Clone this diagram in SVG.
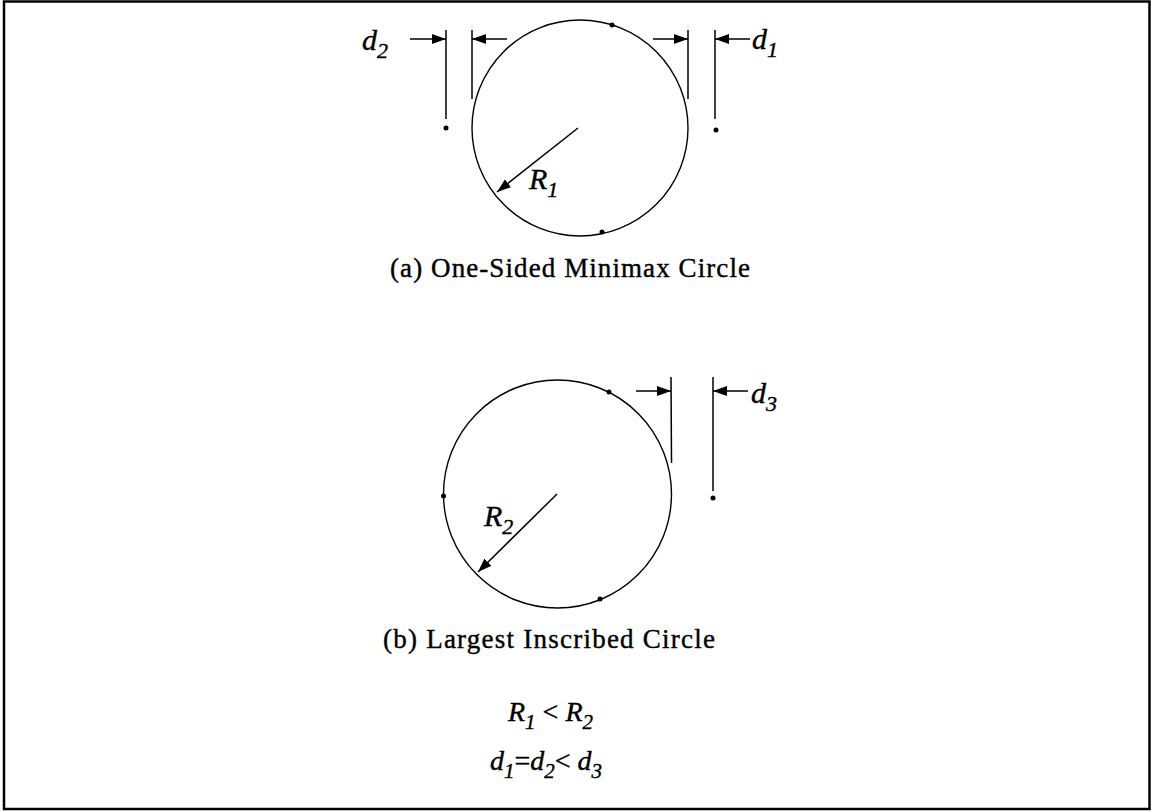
<svg xmlns="http://www.w3.org/2000/svg" width="1151" height="811" viewBox="0 0 1151 811">
<style>
.ln{stroke:#000;stroke-width:1.5;fill:none}
.cir{stroke:#000;stroke-width:1.4;fill:none}
.dot{fill:#000}
.cap{font-family:"Liberation Serif","Times New Roman",serif;font-size:27px;fill:#000;stroke:#000;stroke-width:0.4}
.it{font-family:"Liberation Serif","Times New Roman",serif;font-style:italic;font-size:30px;fill:#000;stroke:#000;stroke-width:0.4}
.sub{font-size:22px}
</style>
<defs>
<marker id="ah" markerUnits="userSpaceOnUse" markerWidth="15" markerHeight="11" refX="14" refY="5" orient="auto">
<path d="M0,0 L14,5 L0,10 z" fill="#000"/>
</marker>
</defs>
<rect x="0" y="0" width="1151" height="811" fill="#fff"/>
<rect x="4" y="1.5" width="1145.5" height="807.5" fill="none" stroke="#000" stroke-width="2.5"/>

<g id="circleA">
<circle class="cir" cx="580" cy="128" r="108"/>
<circle class="dot" cx="612" cy="25" r="2.5"/>
<circle class="dot" cx="602" cy="232" r="2.5"/>
</g>
<g id="pointsA">
<circle class="dot" cx="446" cy="128" r="2.5"/>
<circle class="dot" cx="716" cy="130" r="2.5"/>
</g>
<g id="circleB">
<circle class="cir" cx="557.5" cy="494" r="114"/>
<circle class="dot" cx="609" cy="392" r="2.5"/>
<circle class="dot" cx="443.5" cy="496" r="2.5"/>
<circle class="dot" cx="600" cy="599" r="2.5"/>
</g>
<g id="pointsB">
<circle class="dot" cx="713" cy="498" r="2.5"/>
</g>

<g id="connectors">
<line class="ln" x1="446" y1="30" x2="446" y2="119"/>
<line class="ln" x1="472" y1="30" x2="472" y2="99"/>
<line class="ln" x1="688" y1="30" x2="688" y2="99"/>
<line class="ln" x1="715" y1="30" x2="715" y2="119"/>
<line class="ln" x1="410" y1="39" x2="446" y2="39" marker-end="url(#ah)"/>
<line class="ln" x1="507" y1="39" x2="472" y2="39" marker-end="url(#ah)"/>
<line class="ln" x1="653" y1="39" x2="688" y2="39" marker-end="url(#ah)"/>
<line class="ln" x1="750" y1="39" x2="715" y2="39" marker-end="url(#ah)"/>
<line class="ln" x1="578" y1="128" x2="497" y2="192" marker-end="url(#ah)"/>
<line class="ln" x1="671" y1="377" x2="671.5" y2="463"/>
<line class="ln" x1="713" y1="377" x2="713" y2="491"/>
<line class="ln" x1="636" y1="391" x2="671" y2="391" marker-end="url(#ah)"/>
<line class="ln" x1="748" y1="391" x2="713" y2="391" marker-end="url(#ah)"/>
<line class="ln" x1="557" y1="494" x2="478" y2="572" marker-end="url(#ah)"/>
</g>

<g id="labels">
<text class="it" x="362" y="50">d<tspan class="sub" dy="8">2</tspan></text>
<text class="it" x="752" y="49">d<tspan class="sub" dy="8">1</tspan></text>
<text class="it" x="751" y="403">d<tspan class="sub" dy="8">3</tspan></text>
<text class="it" x="529" y="189">R<tspan class="sub" dy="8">1</tspan></text>
<text class="it" x="484" y="526">R<tspan class="sub" dy="8">2</tspan></text>
<text class="cap" x="390" y="277" textLength="360" lengthAdjust="spacing">(a) One-Sided  Minimax Circle</text>
<text class="cap" x="383" y="648" textLength="332" lengthAdjust="spacing">(b) Largest  Inscribed Circle</text>
<text class="it" x="508" y="721" style="font-size:28px">R<tspan class="sub" dy="8" style="font-size:21px">1</tspan><tspan dy="-8" font-style="normal"> &lt; </tspan>R<tspan class="sub" dy="8" style="font-size:21px">2</tspan></text>
<text class="it" x="490" y="770" style="font-size:28px">d<tspan class="sub" dy="8" style="font-size:21px">1</tspan><tspan dy="-8" font-style="normal">=</tspan>d<tspan class="sub" dy="8" style="font-size:21px">2</tspan><tspan dy="-8" font-style="normal">&lt; </tspan>d<tspan class="sub" dy="8" style="font-size:21px">3</tspan></text>
</g>
</svg>
